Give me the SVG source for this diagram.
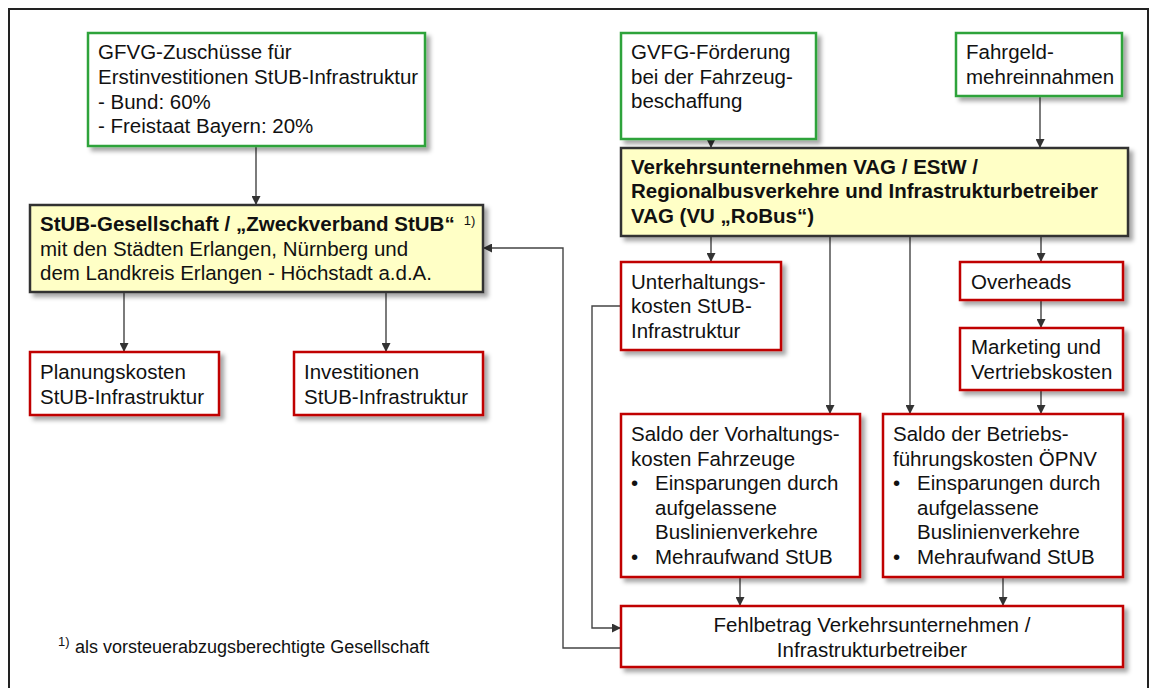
<svg xmlns="http://www.w3.org/2000/svg" width="1152" height="688" viewBox="0 0 1152 688">
<defs>
<filter id="sh" x="-10%" y="-10%" width="130%" height="140%">
<feDropShadow dx="4" dy="4" stdDeviation="2.2" flood-color="#000" flood-opacity="0.35"/>
</filter>
<marker id="ah" viewBox="0 0 10 10" refX="10" refY="5" markerWidth="9" markerHeight="9" markerUnits="userSpaceOnUse" orient="auto">
<path d="M0,0 L10,5 L0,10 Z" fill="#333"/>
</marker>
</defs>
<style>
text{font-family:"Liberation Sans",Arial,sans-serif;font-size:20.5px;fill:#111}
.b{font-weight:bold}
.sup{font-size:13px}
.fn{font-size:18px}
.g{fill:#fff;stroke:#2fa33a;stroke-width:2.5}
.r{fill:#fff;stroke:#c00000;stroke-width:2.5}
.y{fill:#ffffc6;stroke:#333;stroke-width:2.5}
.c{fill:none;stroke:#444;stroke-width:1.4}
</style>
<rect width="1152" height="688" fill="#fff"/>
<path d="M9,700 V9 H1148 V700" fill="none" stroke="#222" stroke-width="2"/>

<g id="connectors">
<path class="c" d="M256,146 V205" marker-end="url(#ah)"/>
<path class="c" d="M124,292 V352" marker-end="url(#ah)"/>
<path class="c" d="M386,292 V352" marker-end="url(#ah)"/>
<path class="c" d="M711,139 V148" marker-end="url(#ah)"/>
<path class="c" d="M1040,96 V148" marker-end="url(#ah)"/>
<path class="c" d="M711,236 V262" marker-end="url(#ah)"/>
<path class="c" d="M830,236 V414" marker-end="url(#ah)"/>
<path class="c" d="M910,236 V414" marker-end="url(#ah)"/>
<path class="c" d="M1041,236 V262" marker-end="url(#ah)"/>
<path class="c" d="M1041,300 V328" marker-end="url(#ah)"/>
<path class="c" d="M1041,390 V414" marker-end="url(#ah)"/>
<path class="c" d="M740,577 V606" marker-end="url(#ah)"/>
<path class="c" d="M1003,577 V606" marker-end="url(#ah)"/>
<path class="c" d="M621,306 H592 V628 H621" marker-end="url(#ah)"/>
<path class="c" d="M621,648 H563 V248 H483" marker-end="url(#ah)"/>
</g>

<g id="gfvg">
<rect class="g" x="88" y="33" width="337" height="113" filter="url(#sh)"/>
<text x="98" y="59">GFVG-Zuschüsse für</text>
<text x="98" y="84">Erstinvestitionen StUB-Infrastruktur</text>
<text x="98" y="108.5">- Bund: 60%</text>
<text x="98" y="133">- Freistaat Bayern: 20%</text>
</g>

<g id="stub">
<rect class="y" x="30" y="205" width="453" height="87" filter="url(#sh)"/>
<text x="40" y="231"><tspan class="b">StUB-Gesellschaft / „Zweckverband StUB“</tspan><tspan class="sup" dx="9" dy="-6">1)</tspan></text>
<text x="40" y="255.5">mit den Städten Erlangen, Nürnberg und</text>
<text x="40" y="280">dem Landkreis Erlangen - Höchstadt a.d.A.</text>
</g>

<g id="planung">
<rect class="r" x="30" y="352" width="189" height="63" filter="url(#sh)"/>
<text x="40" y="379">Planungskosten</text>
<text x="40" y="403.5">StUB-Infrastruktur</text>
</g>

<g id="invest">
<rect class="r" x="294" y="352" width="189" height="63" filter="url(#sh)"/>
<text x="304" y="379">Investitionen</text>
<text x="304" y="403.5">StUB-Infrastruktur</text>
</g>

<g id="gvfg">
<rect class="g" x="621" y="33" width="195" height="106" filter="url(#sh)"/>
<text x="631" y="59">GVFG-Förderung</text>
<text x="631" y="83.5">bei der Fahrzeug-</text>
<text x="631" y="108">beschaffung</text>
</g>

<g id="fahrgeld">
<rect class="g" x="956" y="33" width="166" height="63" filter="url(#sh)"/>
<text x="966" y="59">Fahrgeld-</text>
<text x="966" y="83.5">mehreinnahmen</text>
</g>

<g id="vu">
<rect class="y" x="621" y="148" width="507" height="88" filter="url(#sh)"/>
<text class="b" x="631" y="173.5">Verkehrsunternehmen VAG / EStW /</text>
<text class="b" x="631" y="198">Regionalbusverkehre und Infrastrukturbetreiber</text>
<text class="b" x="631" y="222.5">VAG (VU „RoBus“)</text>
</g>

<g id="unterhaltung">
<rect class="r" x="621" y="262" width="160" height="88" filter="url(#sh)"/>
<text x="631" y="288.5">Unterhaltungs-</text>
<text x="631" y="313">kosten StUB-</text>
<text x="631" y="337.5">Infrastruktur</text>
</g>

<g id="overheads">
<rect class="r" x="960" y="262" width="163" height="38" filter="url(#sh)"/>
<text x="971" y="289">Overheads</text>
</g>

<g id="marketing">
<rect class="r" x="960" y="328" width="163" height="62" filter="url(#sh)"/>
<text x="971" y="354">Marketing und</text>
<text x="971" y="378.5">Vertriebskosten</text>
</g>

<g id="vorhaltung">
<rect class="r" x="621" y="414" width="239" height="163" filter="url(#sh)"/>
<text x="631" y="441">Saldo der Vorhaltungs-</text>
<text x="631" y="465.5">kosten Fahrzeuge</text>
<text x="631" y="490">•</text><text x="655" y="490">Einsparungen durch</text>
<text x="655" y="514.5">aufgelassene</text>
<text x="655" y="539">Buslinienverkehre</text>
<text x="631" y="563.5">•</text><text x="655" y="563.5">Mehraufwand StUB</text>
</g>

<g id="betrieb">
<rect class="r" x="883" y="414" width="240" height="163" filter="url(#sh)"/>
<text x="893" y="441">Saldo der Betriebs-</text>
<text x="893" y="465.5">führungskosten ÖPNV</text>
<text x="893" y="490">•</text><text x="917" y="490">Einsparungen durch</text>
<text x="917" y="514.5">aufgelassene</text>
<text x="917" y="539">Buslinienverkehre</text>
<text x="893" y="563.5">•</text><text x="917" y="563.5">Mehraufwand StUB</text>
</g>

<g id="fehlbetrag">
<rect class="r" x="621" y="606" width="502" height="61" filter="url(#sh)"/>
<text x="872" y="632" text-anchor="middle">Fehlbetrag Verkehrsunternehmen /</text>
<text x="872" y="656.5" text-anchor="middle">Infrastrukturbetreiber</text>
</g>

<g id="footnote">
<text class="sup" x="58" y="646">1)</text>
<text class="fn" x="75" y="653">als vorsteuerabzugsberechtigte Gesellschaft</text>
</g>
</svg>
